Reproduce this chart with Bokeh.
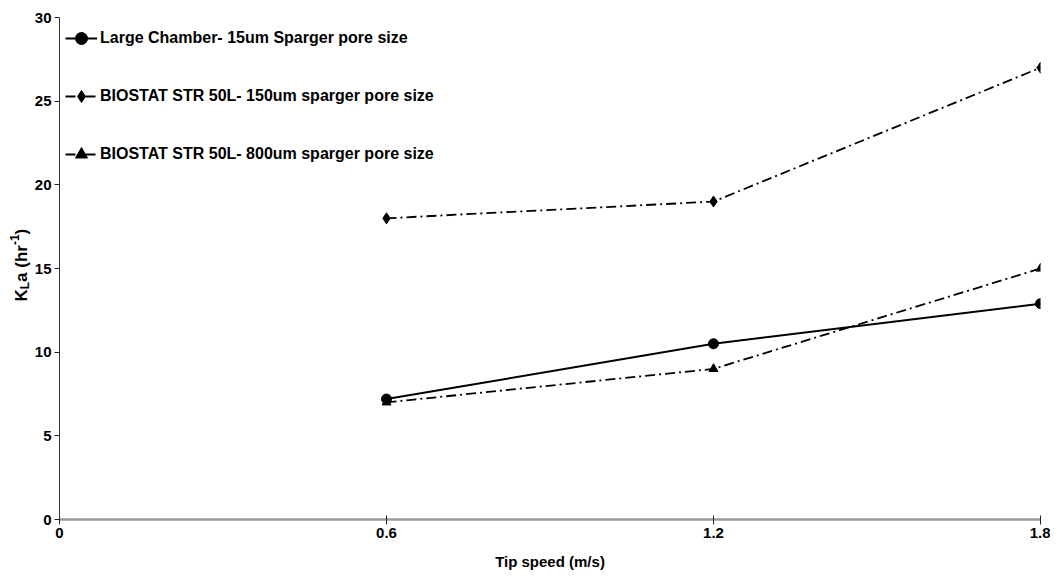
import math
from bokeh.plotting import figure
from bokeh.layouts import row
from bokeh.models import Range1d, FixedTicker, Legend, LegendItem, Label
from bokeh.embed import file_html
from bokeh.resources import INLINE

# ---- data ----
tip_speed = [0.6, 1.2, 1.8]
large_chamber_15um = [7.2, 10.5, 12.9]
biostat_150um = [18.0, 19.0, 27.0]
biostat_800um = [7.0, 9.0, 15.0]
x_ticks = [0, 0.6, 1.2, 1.8]
y_ticks = [0, 5, 10, 15, 20, 25, 30]
series_names = [
    "Large Chamber- 15um Sparger pore size",
    "BIOSTAT STR 50L- 150um sparger pore size",
    "BIOSTAT STR 50L- 800um sparger pore size",
]

FONT = "Liberation Sans"
H = 572
LW = 31          # width of the strip holding the y-axis title
W = 1050 - LW

p = figure(width=W, height=H, output_backend="svg", toolbar_location=None,
           x_range=Range1d(0, 1.8), y_range=Range1d(0, 30),
           min_border_left=25, min_border_right=10, min_border_top=17, min_border_bottom=53)
p.outline_line_color = None
p.grid.visible = False
p.background_fill_color = "white"

# axes
p.xaxis.ticker = FixedTicker(ticks=x_ticks)
p.xaxis.major_label_overrides = {0: "0", 0.6: "0.6", 1.2: "1.2", 1.8: "1.8"}
p.yaxis.ticker = FixedTicker(ticks=y_ticks)
p.xaxis.minor_tick_line_color = None
p.yaxis.minor_tick_line_color = None
for ax in (p.xaxis, p.yaxis):
    ax.major_label_text_font = FONT
    ax.major_label_text_font_style = "bold"
    ax.major_label_text_font_size = "15px"
    ax.major_label_text_color = "black"
    ax.major_tick_line_color = "#222222"

p.xaxis.axis_line_color = "#9a9a9a"
p.xaxis.axis_line_width = 2.5
p.xaxis.major_tick_in = 4
p.xaxis.major_tick_out = 5
p.xaxis.major_label_standoff = 3
p.xaxis.axis_label = "Tip speed (m/s)"
p.xaxis.axis_label_text_font = FONT
p.xaxis.axis_label_text_font_style = "bold"
p.xaxis.axis_label_text_font_size = "15px"
p.xaxis.axis_label_text_color = "black"
p.xaxis.axis_label_standoff = 12

p.yaxis.axis_line_color = "#333333"
p.yaxis.axis_line_width = 1
p.yaxis.major_tick_in = 0
p.yaxis.major_tick_out = 5
p.yaxis.major_label_standoff = 3

# series
r1 = p.line(tip_speed, large_chamber_15um, line_color="black", line_width=2)
m1 = p.scatter(tip_speed, large_chamber_15um, marker="circle", size=10,
               fill_color="black", line_color="black")
r2 = p.line(tip_speed, biostat_150um, line_color="black", line_width=1.8,
            line_dash="10 4 2 4")
m2 = p.scatter(tip_speed, biostat_150um, marker="diamond", size=11,
               fill_color="black", line_color="black")
r3 = p.line(tip_speed, biostat_800um, line_color="black", line_width=1.8,
            line_dash="10 4 2 4")
m3 = p.scatter(tip_speed, biostat_800um, marker="triangle", size=9,
               fill_color="black", line_color="black")

legend = Legend(items=[
    LegendItem(label=series_names[0], renderers=[r1, m1]),
    LegendItem(label=series_names[1], renderers=[r2, m2]),
    LegendItem(label=series_names[2], renderers=[r3, m3]),
], location="top_left")
legend.border_line_color = None
legend.background_fill_alpha = 0
legend.margin = 6
legend.padding = 0
legend.spacing = 28
legend.label_height = 30
legend.glyph_height = 30
legend.glyph_width = 32
legend.label_standoff = 3
legend.label_text_font = FONT
legend.label_text_font_style = "bold"
legend.label_text_font_size = "16px"
legend.label_text_color = "black"
p.add_layout(legend)

# strip holding the y-axis title "K_L a (hr^-1)" composed of rotated pieces
t = figure(width=LW, height=H, output_backend="svg", toolbar_location=None,
           x_range=Range1d(0, 1), y_range=Range1d(0, 1),
           x_axis_location=None, y_axis_location=None,
           min_border_left=0, min_border_right=0, min_border_top=0, min_border_bottom=0)
t.outline_line_color = None
t.grid.visible = False

ang = math.pi / 2
base_x = 21
start_y = 218
pieces = [
    ("K", "17px", 0, 12.3),
    ("L", "12px", 3, 7.3),
    ("a (hr", "17px", 0, 36.8),
    ("-1", "12px", -7, 10.7),
    (")", "17px", 0, 5.7),
]
yy = start_y
for txt, fs, dx, w in pieces:
    t.add_layout(Label(x=base_x + dx, y=yy, x_units="screen", y_units="screen",
                       text=txt, angle=ang, text_font=FONT, text_font_style="bold",
                       text_font_size=fs, text_color="black",
                       text_align="left", text_baseline="alphabetic"))
    yy += w

layout = row(t, p)
open("out.html", "w").write(file_html(layout, INLINE))
